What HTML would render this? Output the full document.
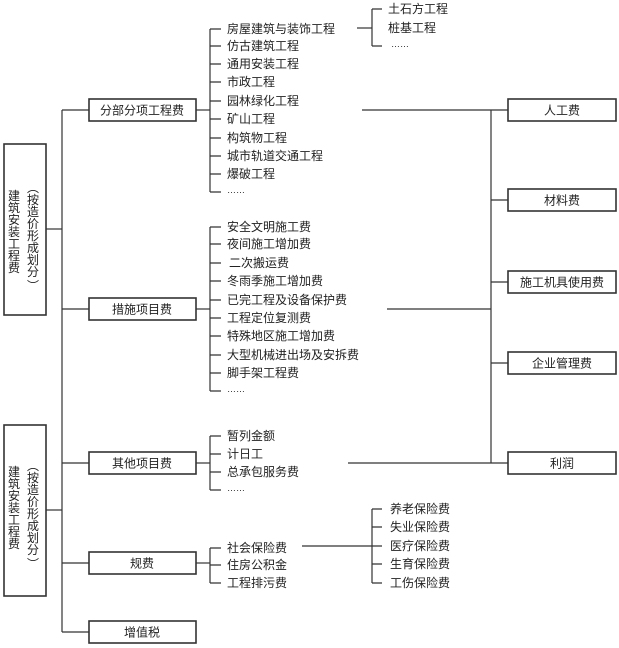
<!DOCTYPE html>
<html><head><meta charset="utf-8"><style>
html,body{margin:0;padding:0;background:#fff}
svg{display:block}
text{font-family:"Liberation Sans","Noto Sans CJK SC",sans-serif;font-size:12px;fill:#222}
.c{text-anchor:middle}
</style></head><body>
<svg width="619" height="648" viewBox="0 0 619 648" xmlns="http://www.w3.org/2000/svg">
<g stroke="#333" stroke-width="1.2" fill="none">
<!-- left boxes -->
<rect x="4" y="144" width="42" height="171" stroke-width="1.6"/>
<rect x="4" y="425" width="42" height="171" stroke-width="1.6"/>
<line x1="46" y1="229" x2="62" y2="229"/>
<line x1="46" y1="510" x2="62" y2="510"/>
<line x1="62" y1="110" x2="62" y2="632"/>
<line x1="62" y1="110" x2="89" y2="110"/>
<line x1="62" y1="309" x2="89" y2="309"/>
<line x1="62" y1="463" x2="89" y2="463"/>
<line x1="62" y1="563" x2="89" y2="563"/>
<line x1="62" y1="632" x2="89" y2="632"/>
<!-- middle boxes -->
<rect x="89" y="99" width="107" height="22" stroke-width="1.6"/>
<rect x="89" y="298" width="107" height="22" stroke-width="1.6"/>
<rect x="89" y="452" width="107" height="22" stroke-width="1.6"/>
<rect x="89" y="552" width="107" height="22" stroke-width="1.6"/>
<rect x="89" y="621" width="107" height="22" stroke-width="1.6"/>
<!-- connectors to lists -->
<line x1="196" y1="110" x2="210" y2="110"/>
<line x1="196" y1="309" x2="210" y2="309"/>
<line x1="196" y1="463" x2="210" y2="463"/>
<line x1="196" y1="563" x2="210" y2="563"/>
<!-- bracket 1 -->
<line x1="210" y1="29" x2="210" y2="192"/>
<path d="M210 29h11M210 46h11M210 64h11M210 82h11M210 101h11M210 119h11M210 138h11M210 156h11M210 174h11M210 192h11"/>
<!-- bracket 2 -->
<line x1="210" y1="227" x2="210" y2="391"/>
<path d="M210 227h11M210 244h11M210 263h11M210 281h11M210 300h11M210 318h11M210 336h11M210 355h11M210 373h11M210 391h11"/>
<!-- bracket 3 -->
<line x1="210" y1="436" x2="210" y2="490"/>
<path d="M210 436h11M210 454h11M210 472h11M210 490h11"/>
<!-- bracket 4 -->
<line x1="210" y1="548" x2="210" y2="583"/>
<path d="M210 548h11M210 565h11M210 583h11"/>
<!-- sub-sub -->
<line x1="357" y1="28" x2="372" y2="28"/>
<line x1="372" y1="9" x2="372" y2="46"/>
<path d="M372 9h10M372 46h10"/>
<!-- insurance -->
<line x1="302" y1="546" x2="372" y2="546"/>
<line x1="372" y1="509" x2="372" y2="583"/>
<path d="M372 509h10M372 527h10M372 546h10M372 564h10M372 583h10"/>
<!-- right -->
<line x1="362" y1="110" x2="508" y2="110"/>
<line x1="387" y1="309" x2="491" y2="309"/>
<line x1="348" y1="463" x2="508" y2="463"/>
<line x1="491" y1="110" x2="491" y2="463"/>
<line x1="491" y1="200" x2="508" y2="200"/>
<line x1="491" y1="282" x2="508" y2="282"/>
<line x1="491" y1="363" x2="508" y2="363"/>
<rect x="508" y="99" width="108" height="22" stroke-width="1.6"/>
<rect x="508" y="189" width="108" height="22" stroke-width="1.6"/>
<rect x="508" y="271" width="108" height="22" stroke-width="1.6"/>
<rect x="508" y="352" width="108" height="22" stroke-width="1.6"/>
<rect x="508" y="452" width="108" height="22" stroke-width="1.6"/>
</g>
<!-- left vertical text -->
<g class="c">
<text x="14" y="200" class="c">建</text><text x="14" y="212" class="c">筑</text><text x="14" y="224" class="c">安</text><text x="14" y="236" class="c">装</text><text x="14" y="248" class="c">工</text><text x="14" y="260" class="c">程</text><text x="14" y="272" class="c">费</text>
<text x="33" y="192" class="c">︵</text><text x="33" y="204" class="c">按</text><text x="33" y="216" class="c">造</text><text x="33" y="228" class="c">价</text><text x="33" y="240" class="c">形</text><text x="33" y="252" class="c">成</text><text x="33" y="264" class="c">划</text><text x="33" y="276" class="c">分</text><text x="33" y="290" class="c">︶</text>
<text x="14" y="476" class="c">建</text><text x="14" y="488" class="c">筑</text><text x="14" y="500" class="c">安</text><text x="14" y="512" class="c">装</text><text x="14" y="524" class="c">工</text><text x="14" y="536" class="c">程</text><text x="14" y="548" class="c">费</text>
<text x="33" y="470" class="c">︵</text><text x="33" y="482" class="c">按</text><text x="33" y="494" class="c">造</text><text x="33" y="506" class="c">价</text><text x="33" y="518" class="c">形</text><text x="33" y="530" class="c">成</text><text x="33" y="542" class="c">划</text><text x="33" y="554" class="c">分</text><text x="33" y="568" class="c">︶</text>
</g>
<!-- middle labels -->
<text x="142" y="114.5" class="c">分部分项工程费</text>
<text x="142" y="313.5" class="c">措施项目费</text>
<text x="142" y="467.5" class="c">其他项目费</text>
<text x="142" y="567.5" class="c">规费</text>
<text x="142" y="636.5" class="c">增值税</text>
<!-- list 1 -->
<text x="227" y="33">房屋建筑与装饰工程</text>
<text x="227" y="50">仿古建筑工程</text>
<text x="227" y="68">通用安装工程</text>
<text x="227" y="86">市政工程</text>
<text x="227" y="105">园林绿化工程</text>
<text x="227" y="123">矿山工程</text>
<text x="227" y="142">构筑物工程</text>
<text x="227" y="160">城市轨道交通工程</text>
<text x="227" y="178">爆破工程</text>
<text x="227" y="193" style="font-size:9px">……</text>
<!-- list 2 -->
<text x="227" y="231">安全文明施工费</text>
<text x="227" y="248">夜间施工增加费</text>
<text x="229" y="267">二次搬运费</text>
<text x="227" y="285">冬雨季施工增加费</text>
<text x="227" y="304">已完工程及设备保护费</text>
<text x="227" y="322">工程定位复测费</text>
<text x="227" y="340">特殊地区施工增加费</text>
<text x="227" y="359">大型机械进出场及安拆费</text>
<text x="227" y="377">脚手架工程费</text>
<text x="227" y="392" style="font-size:9px">……</text>
<!-- list 3 -->
<text x="227" y="440">暂列金额</text>
<text x="227" y="458">计日工</text>
<text x="227" y="476">总承包服务费</text>
<text x="227" y="491" style="font-size:9px">……</text>
<!-- list 4 -->
<text x="227" y="552">社会保险费</text>
<text x="227" y="569">住房公积金</text>
<text x="227" y="587">工程排污费</text>
<!-- sub-sub -->
<text x="388" y="13">土石方工程</text>
<text x="388" y="32">桩基工程</text>
<text x="391" y="47" style="font-size:9px">……</text>
<!-- insurance -->
<text x="390" y="513">养老保险费</text>
<text x="390" y="531">失业保险费</text>
<text x="390" y="550">医疗保险费</text>
<text x="390" y="568">生育保险费</text>
<text x="390" y="587">工伤保险费</text>
<!-- right labels -->
<text x="562" y="114.5" class="c">人工费</text>
<text x="562" y="204.5" class="c">材料费</text>
<text x="562" y="286.5" class="c">施工机具使用费</text>
<text x="562" y="367.5" class="c">企业管理费</text>
<text x="562" y="467.5" class="c">利润</text>
</svg>
</body></html>
